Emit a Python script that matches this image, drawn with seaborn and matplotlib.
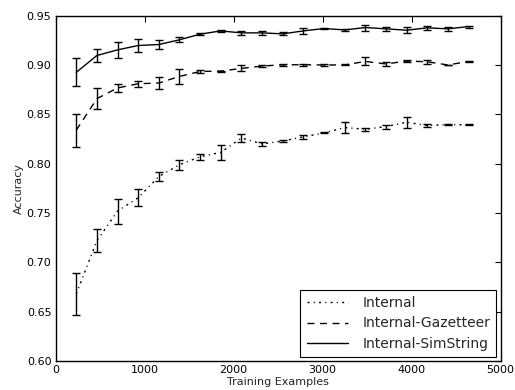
import numpy as np
import pandas as pd
import seaborn as sns
import matplotlib
matplotlib.use("Agg")
import matplotlib.pyplot as plt

train_sizes = [232, 464, 696, 928, 1160, 1392, 1624, 1856, 2088, 2320,
               2552, 2784, 3016, 3248, 3480, 3712, 3944, 4176, 4408, 4640]

internal = [0.668, 0.722, 0.752, 0.7655, 0.787, 0.799, 0.807, 0.8115, 0.826, 0.820,
            0.823, 0.8272, 0.8312, 0.8366, 0.8349, 0.8376, 0.842, 0.8386, 0.8396, 0.8393]
internal_err = [0.0214, 0.0115, 0.0126, 0.0085, 0.005, 0.005, 0.003, 0.0074, 0.004, 0.002,
                0.0015, 0.002, 0.0005, 0.0057, 0.0015, 0.002, 0.0054, 0.0015, 0.0005, 0.0005]

gazetteer = [0.8339, 0.8659, 0.8767, 0.881, 0.8817, 0.8884, 0.8934, 0.8938, 0.8965, 0.8989,
             0.9002, 0.9002, 0.900, 0.900, 0.9036, 0.901, 0.904, 0.9032, 0.900, 0.9036]
gazetteer_err = [0.0165, 0.0103, 0.0042, 0.003, 0.006, 0.0074, 0.002, 0.0005, 0.003, 0.001,
                 0.001, 0.001, 0.001, 0.0005, 0.004, 0.002, 0.001, 0.002, 0.0003, 0.0003]

simstring = [0.8925, 0.9096, 0.9153, 0.9197, 0.9207, 0.9255, 0.9312, 0.9345, 0.9325, 0.9325,
             0.9315, 0.9345, 0.9369, 0.9355, 0.9379, 0.9366, 0.9352, 0.9376, 0.9366, 0.9389]
simstring_err = [0.0143, 0.007, 0.008, 0.0067, 0.0047, 0.0025, 0.001, 0.0007, 0.002, 0.002,
                 0.0015, 0.003, 0.0007, 0.0007, 0.003, 0.002, 0.003, 0.002, 0.002, 0.001]

labels = ["Internal", "Internal-Gazetteer", "Internal-SimString"]
x_ticks = [0, 1000, 2000, 3000, 4000, 5000]
y_ticks = [0.60, 0.65, 0.70, 0.75, 0.80, 0.85, 0.90, 0.95]

sns.set_style("white")
plt.rcParams["font.family"] = ["DejaVu Sans"]
plt.rcParams["xtick.direction"] = "in"
plt.rcParams["ytick.direction"] = "in"

fig = plt.figure(figsize=(5.15, 3.9), dpi=100)
ax = fig.add_axes([0.108, 0.074, 0.864, 0.886])

series = [(internal, internal_err, (0, (1.5, 3, 0.8, 3))),
          (gazetteer, gazetteer_err, (0, (5, 4))),
          (simstring, simstring_err, "-")]

for (vals, errs, ls), lab in zip(series, labels):
    df = pd.DataFrame({"x": train_sizes, "y": vals})
    sns.lineplot(data=df, x="x", y="y", ax=ax, color="black", linewidth=1.0,
                 linestyle=ls, label=lab)
    ax.errorbar(train_sizes, vals, yerr=errs, fmt="none", ecolor="black",
                elinewidth=1.0, capsize=2.8, capthick=1.0)

ax.set_xlim(0, 5000)
ax.set_ylim(0.60, 0.95)
ax.set_xticks(x_ticks)
ax.set_yticks(y_ticks)
ax.set_yticklabels([f"{v:.2f}" for v in y_ticks])
ax.tick_params(axis="both", which="both", direction="in", top=True, right=True,
               length=4, width=0.8, labelsize=8, colors="black", pad=3)
for s in ax.spines.values():
    s.set_visible(True)
    s.set_color("black")
    s.set_linewidth(1.0)
ax.set_xlabel("Training Examples", fontsize=8, labelpad=1)
ax.set_ylabel("Accuracy", fontsize=8, labelpad=2)

leg = ax.legend(loc="lower right", fontsize=10, frameon=True, fancybox=False,
                handlelength=3.0, handletextpad=1.0, borderaxespad=0.3,
                labelspacing=0.45, borderpad=0.45)
leg.get_frame().set_edgecolor("black")
leg.get_frame().set_linewidth(0.8)
leg.get_frame().set_alpha(1)

fig.savefig("out.png", dpi=100)
